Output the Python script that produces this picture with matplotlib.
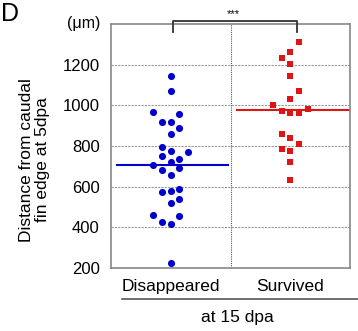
import matplotlib
matplotlib.use("Agg")
from matplotlib import pyplot as plt

plt.rcParams['font.family'] = ['Liberation Sans', 'DejaVu Sans']

# distances (um), with swarm column of each dot
groups = ["Disappeared", "Survived"]
blue_vals = [1144, 1073, 967, 959, 921, 918, 891, 862, 798, 778, 772, 750, 736, 724,
             705, 692, 682, 657, 572, 580, 588, 521, 539, 461, 456, 425, 415, 226]
blue_col = [0, 0, -2, 1, -1, 0, 1, 0, -1, 0, 2, -1, 1, 0,
            -2, 1, -1, 0, -1, 0, 1, 0, 1, -2, 1, -1, 0, 0]
red_vals = [1312, 1232, 1261, 1202, 1144, 1073, 1034, 1004, 983, 974,
            962, 962, 862, 839, 811, 788, 778, 723, 633]
red_col = [1, -1, 0, 0, 0, 1, 0, -2, 2, -1,
           0, 1, -1, 0, 1, -1, 0, 0, 0]
blue_med = 708
red_med = 978
yticks = [200, 400, 600, 800, 1000, 1200]

step = 0.0725  # spacing between swarm columns

fig = plt.figure(figsize=(3.58, 3.31), dpi=100)
ax = fig.add_axes([0.310, 0.190, 0.668, 0.737])

bx = [0.5 + c*step for c in blue_col]
rx = [1.5 + c*step for c in red_col]
ax.scatter(bx, blue_vals, s=26, marker='o', color='#0000CC', linewidths=0, zorder=3)
ax.scatter(rx, red_vals, s=22, marker='s', color='#DD1515', linewidths=0, zorder=3)
ax.plot([0.048, 0.977], [blue_med, blue_med], color='#0000CC', lw=1.5, zorder=2)
ax.plot([1.058, 1.989], [red_med, red_med], color='#DD1515', lw=1.5, zorder=2)

ax.set_xlim(0, 2)
ax.set_ylim(200, 1400)
ax.set_yticks(yticks)
ax.set_yticklabels([str(v) for v in yticks], fontsize=12)
ax.tick_params(axis='y', length=0, pad=8)
ax.set_xticks([0.5, 1.5])
ax.set_xticklabels(groups, fontsize=12.5)
ax.tick_params(axis='x', length=0, pad=8)

for v in yticks[1:]:
    ax.axhline(v, color='#999999', lw=0.8, ls=(0, (2, 1)), zorder=1)
ax.axvline(1, color='#555555', lw=0.8, ls=(0, (1, 1)), zorder=1)

for s in ax.spines.values():
    s.set_color('#888888')
    s.set_linewidth(1.2)

fig.text(34.5/358, 0.517, "Distance from caudal\nfin edge at 5dpa", rotation=90,
         ha='center', va='center', fontsize=12.5, linespacing=1.05)

# significance bracket
ax.plot([0.516, 0.516, 1.554, 1.554], [1362, 1416, 1416, 1362], color='#333333', lw=1.3,
        clip_on=False, zorder=4)
fig.text(0.651, 0.958, "***", ha='center', va='center', fontsize=8)

fig.text(0.003, 0.995, "D", ha='left', va='top', fontsize=18)
fig.text(0.233, 0.930, "(\u03bcm)", ha='center', va='center', fontsize=11.5)

# group axis line and label
fig.add_artist(plt.Line2D([0.340, 1.0], [0.0958, 0.0958], color='#555555', lw=1.2))
fig.text(0.663, 0.040, "at 15 dpa", ha='center', va='center', fontsize=12.5)

fig.savefig("out.png", dpi=100)
